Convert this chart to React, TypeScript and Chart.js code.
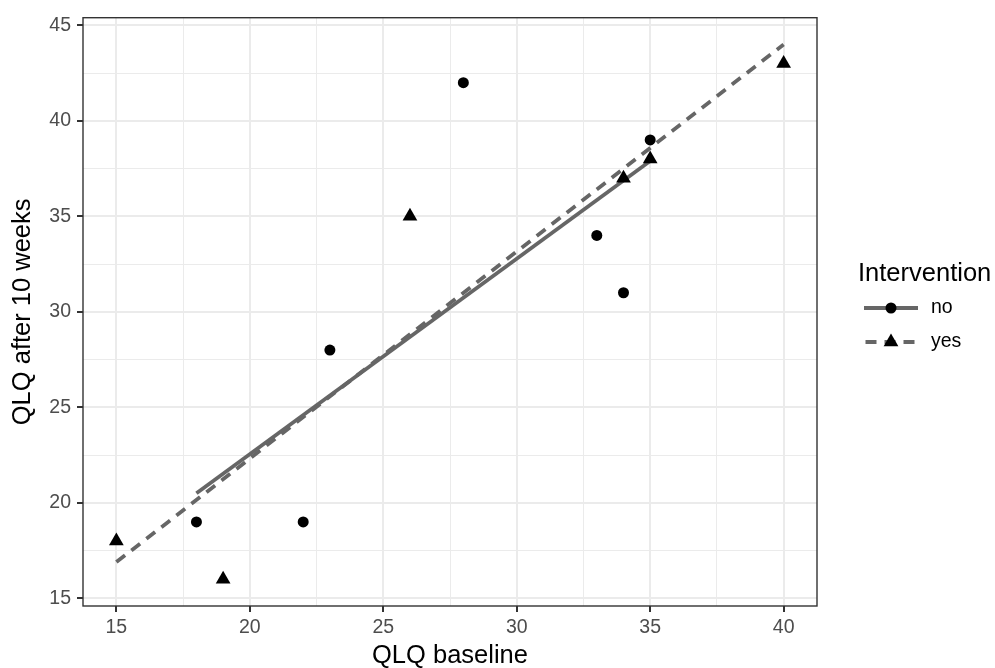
import React, { useEffect, useRef } from "react";
import { Chart, registerables } from "chart.js";

Chart.register(...registerables);

// ---- data ----
const noBaseline = [18, 22, 23, 28, 33, 34, 35];
const noAfter = [19, 19, 28, 42, 34, 31, 39];
const yesBaseline = [15, 19, 26, 34, 35, 40];
const yesAfter = [18, 16, 35, 37, 38, 43];
// fitted line end points
const noFitX = [18, 35];
const noFitY = [20.5, 37.9];
const yesFitX = [15, 40];
const yesFitY = [16.9, 44.0];
// axis ticks
const xMajorTicks = [15, 20, 25, 30, 35, 40];
const xMinorTicks = [17.5, 22.5, 27.5, 32.5, 37.5];
const yMajorTicks = [15, 20, 25, 30, 35, 40, 45];
const yMinorTicks = [17.5, 22.5, 27.5, 32.5, 37.5, 42.5];
const legendTitle = "Intervention";
const legendLabels = ["no", "yes"];
const xTitle = "QLQ baseline";
const yTitle = "QLQ after 10 weeks";

const FONT = '"Liberation Sans", Arial, Helvetica, sans-serif';
const LINE_COLOR = "#666666";
const GRID = "#ebebeb";
const DASH = [11, 8];

const toPts = (xs: number[], ys: number[]) => xs.map((x, i) => ({ x, y: ys[i] }));

const isMajor = (v: number) => Math.abs(v % 5) < 1e-9;

const legendPlugin = {
  id: "ggLegend",
  afterDraw(chart: any) {
    const ctx = chart.ctx;
    const area = chart.chartArea;
    ctx.save();
    // panel border
    ctx.strokeStyle = "#333333";
    ctx.lineWidth = 1.4;
    ctx.strokeRect(area.left, area.top, area.right - area.left, area.bottom - area.top);

    // legend
    ctx.fillStyle = "#000";
    ctx.textBaseline = "middle";
    ctx.textAlign = "left";
    ctx.font = `25.5px ${FONT}`;
    ctx.fillText(legendTitle, 858, 274);

    const rows = [308, 342];
    const x0 = 864, x1 = 918, xc = 891;
    // no row: solid line with circle
    ctx.strokeStyle = LINE_COLOR;
    ctx.lineWidth = 3.8;
    ctx.setLineDash([]);
    ctx.beginPath();
    ctx.moveTo(x0, rows[0]);
    ctx.lineTo(x1, rows[0]);
    ctx.stroke();
    ctx.fillStyle = "#000";
    ctx.beginPath();
    ctx.arc(xc, rows[0], 5.5, 0, Math.PI * 2);
    ctx.fill();
    // yes row: dashed line with triangle
    ctx.strokeStyle = LINE_COLOR;
    ctx.setLineDash(DASH);
    ctx.lineDashOffset = -1.5;
    ctx.beginPath();
    ctx.moveTo(x0, rows[1]);
    ctx.lineTo(x1, rows[1]);
    ctx.stroke();
    ctx.setLineDash([]);
    ctx.lineDashOffset = 0;
    const r = 8.5;
    ctx.fillStyle = "#000";
    ctx.beginPath();
    let a = 0;
    ctx.moveTo(xc + Math.sin(a) * r, rows[1] - Math.cos(a) * r);
    a += (2 * Math.PI) / 3;
    ctx.lineTo(xc + Math.sin(a) * r, rows[1] - Math.cos(a) * r);
    a += (2 * Math.PI) / 3;
    ctx.lineTo(xc + Math.sin(a) * r, rows[1] - Math.cos(a) * r);
    ctx.closePath();
    ctx.fill();

    ctx.font = `19.5px ${FONT}`;
    ctx.fillStyle = "#000";
    ctx.fillText(legendLabels[0], 931, rows[0]);
    ctx.fillText(legendLabels[1], 931, rows[1]);
    ctx.restore();
  },
};

export default function App() {
  const ref = useRef<HTMLCanvasElement | null>(null);
  useEffect(() => {
    document.body.style.margin = "0";
    if (!ref.current) return;
    const chart = new Chart(ref.current, {
      type: "scatter",
      data: {
        datasets: [
          {
            label: "no fit",
            data: toPts(noFitX, noFitY),
            showLine: true,
            borderColor: LINE_COLOR,
            borderWidth: 3.8,
            pointRadius: 0,
            order: 2,
          },
          {
            label: "yes fit",
            data: toPts(yesFitX, yesFitY),
            showLine: true,
            borderColor: LINE_COLOR,
            borderWidth: 3.8,
            borderDash: DASH,
            pointRadius: 0,
            order: 2,
          },
          {
            label: "no",
            data: toPts(noBaseline, noAfter),
            pointStyle: "circle",
            pointRadius: 5.5,
            backgroundColor: "#000",
            borderColor: "#000",
            borderWidth: 0,
            order: 1,
          },
          {
            label: "yes",
            data: toPts(yesBaseline, yesAfter),
            pointStyle: "triangle",
            pointRadius: 8.5,
            backgroundColor: "#000",
            borderColor: "#000",
            borderWidth: 0,
            order: 1,
          },
        ],
      },
      options: {
        animation: false,
        responsive: true,
        maintainAspectRatio: false,
        layout: { padding: { top: 15, right: 178, left: 0, bottom: 0 } },
        plugins: { legend: { display: false }, tooltip: { enabled: false } },
        scales: {
          x: {
            type: "linear",
            min: 13.75,
            max: 41.25,
            afterBuildTicks: (s: any) => {
              s.ticks = [...xMajorTicks, ...xMinorTicks].sort((a, b) => a - b).map((v) => ({ value: v }));
            },
            afterFit: (s: any) => {
              s.height = 62;
            },
            ticks: {
              autoSkip: false,
              maxRotation: 0,
              padding: 4,
              color: "#4d4d4d",
              font: { family: FONT, size: 19.5 },
              callback: (v: any) => (isMajor(Number(v)) ? String(v) : ""),
            },
            grid: {
              color: () => GRID,
              lineWidth: (c: any) => (isMajor(c.tick.value) ? 2 : 1),
              tickColor: (c: any) => (isMajor(c.tick.value) ? "#333333" : "rgba(0,0,0,0)"),
              tickLength: 6,
              tickWidth: 2,
            },
            border: { display: false },
            title: {
              display: true,
              text: xTitle,
              color: "#000",
              font: { family: FONT, size: 25.5 },
              padding: { top: 0, bottom: -3 },
            },
          },
          y: {
            type: "linear",
            min: 14.6,
            max: 45.4,
            afterBuildTicks: (s: any) => {
              s.ticks = [...yMajorTicks, ...yMinorTicks].sort((a, b) => a - b).map((v) => ({ value: v }));
            },
            afterFit: (s: any) => {
              s.width = 83;
            },
            ticks: {
              autoSkip: false,
              padding: 6,
              color: "#4d4d4d",
              font: { family: FONT, size: 19.5 },
              callback: (v: any) => (isMajor(Number(v)) ? String(v) : ""),
            },
            grid: {
              color: () => GRID,
              lineWidth: (c: any) => (isMajor(c.tick.value) ? 2 : 1),
              tickColor: (c: any) => (isMajor(c.tick.value) ? "#333333" : "rgba(0,0,0,0)"),
              tickLength: 6,
              tickWidth: 2,
            },
            border: { display: false },
            title: {
              display: true,
              text: yTitle,
              color: "#000",
              font: { family: FONT, size: 25.5 },
              padding: { top: 8, bottom: 0 },
            },
          },
        },
      },
      plugins: [legendPlugin],
    } as any);
    return () => chart.destroy();
  }, []);
  return (
    <div style={{ position: "absolute", left: 0, top: 0, width: 995, height: 668 }}>
      <canvas ref={ref} />
    </div>
  );
}
